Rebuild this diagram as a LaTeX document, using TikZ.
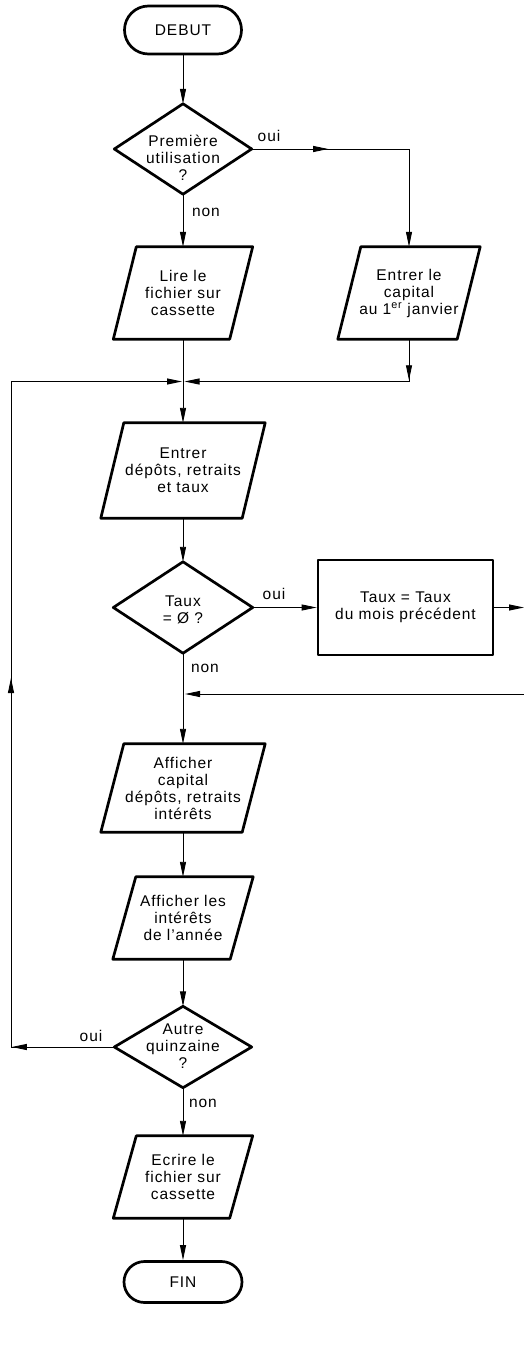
\documentclass[tikz,border=0pt]{standalone}
\usepackage{fontspec}
\newfontfamily\lblfont[LetterSpace=6]{Liberation Sans}
\usetikzlibrary{arrows.meta,shapes.misc,decorations.markings}
\begin{document}
\begin{tikzpicture}[x=1pt,y=-1pt,
  every node/.style={font=\lblfont\fontsize{15.5}{17}\selectfont, align=center},
  >={Triangle[length=15pt,width=6pt]},
  shapeline/.style={line width=2.7pt, line join=round},
  conn/.style={line width=0.9pt, ->},
  holder/.style 2 args={rectangle, inner sep=0pt, minimum width=#1, minimum height=#2},
  term/.style 2 args={rounded rectangle, draw, shapeline, inner sep=0pt, minimum width=#1, minimum height=#2},
  procbox/.style 2 args={rectangle, draw, shapeline, inner sep=0pt, minimum width=#1, minimum height=#2},
  lbl/.style={anchor=base, inner sep=0pt},
  midarrow/.style={postaction={decorate}, decoration={markings, mark=at position #1 with {\arrow{>}}}},
  twomid/.style 2 args={postaction={decorate}, decoration={markings, mark=at position #1 with {\arrow{>}}, mark=at position #2 with {\arrow{>}}}}
]
\useasboundingbox (0,0) rectangle (524,1356);

% terminals
\node[term={117pt}{48pt}] (debut) at (183,30) {DEBUT};
\node[term={118pt}{41pt}] (fin) at (183,1282) {FIN};

% decisions (outline drawn below)
\node[holder={137pt}{90pt}] (d1) at (183,149) {};
\node[holder={139pt}{91pt}] (d2) at (183,607.5) {};
\node[holder={137pt}{81pt}] (d3) at (183,1047) {};
\node (d1t) at (183,158) {Première\\utilisation\\?};
\node (d2t) at (183,609.5) {Taux\\= Ø ?};
\node (d3t) at (183,1046) {Autre\\quinzaine\\?};

% input/output boxes (outline drawn below)
\node[holder={116pt}{92pt}] (lire) at (183,293) {Lire le\\fichier sur\\cassette};
\node[holder={119pt}{92pt}] (cap) at (409,293) {Entrer le\\capital\\au 1\textsuperscript{er} janvier};
\node[holder={141pt}{95pt}] (dep) at (183,470.5) {Entrer\\dépôts, retraits\\et taux};
\node[holder={141pt}{88pt}] (aff) at (183,788) {Afficher\\capital\\dépôts, retraits\\intérêts};
\node[holder={117pt}{82pt}] (ann) at (183,918) {Afficher les\\intérêts\\de l’année};
\node[holder={116pt}{82pt}] (ecr) at (183,1177) {Ecrire le\\fichier sur\\cassette};

% process box
\node[procbox={175pt}{95pt}] (taux) at (405.5,607.5) {Taux = Taux\\du mois précédent};

% outlines
\foreach \n in {d1,d2,d3}
  \draw[shapeline] (\n.north) -- (\n.east) -- (\n.south) -- (\n.west) -- cycle;
\foreach \n in {lire,cap,dep,aff,ann,ecr}
  \draw[shapeline] ([xshift=-11.5pt]\n.south west) -- ([xshift=11.5pt]\n.north west)
    -- ([xshift=11.5pt]\n.north east) -- ([xshift=-11.5pt]\n.south east) -- cycle;

% junctions and free ends
\coordinate (j1) at (183,381.5);
\coordinate (j2) at (183,694);
\coordinate (lx) at (11,1047);
\coordinate (ly) at (11,381.5);
\coordinate (r1) at (524,607.5);
\coordinate (r2) at (524,694);

% connectors
\draw[conn] (debut.south) -- (d1.north);
\draw[conn, midarrow=0.30] (d1.east) -| (cap.north);
\draw[conn] (d1.south) -- (lire.north);
\draw[conn] (lire.south) -- (dep.north);
\draw[conn, shorten >=1.5pt, midarrow=0.153] (cap.south) |- (j1);
\draw[conn, shorten >=1pt, twomid={0.109}{0.502}] (d3.west) -- (lx) -- (ly) -- (j1);
\draw[conn] (dep.south) -- (d2.north);
\draw[conn] (d2.east) -- (taux.west);
\draw[conn] (taux.east) -- (r1);
\draw[conn, shorten >=2pt] (r2) -- (j2);
\draw[conn] (d2.south) -- (aff.north);
\draw[conn] (aff.south) -- (ann.north);
\draw[conn] (ann.south) -- (d3.north);
\draw[conn] (d3.south) -- (ecr.north);
\draw[conn] (ecr.south) -- (fin.north);

% branch labels
\node[lbl] (l1o) at (269,142) {oui};
\node[lbl] (l1n) at (206,217) {non};
\node[lbl] (l2o) at (274,599) {oui};
\node[lbl] (l2n) at (205,672) {non};
\node[lbl] (l3o) at (91,1041) {oui};
\node[lbl] (l3n) at (203,1107) {non};
\end{tikzpicture}
\end{document}
